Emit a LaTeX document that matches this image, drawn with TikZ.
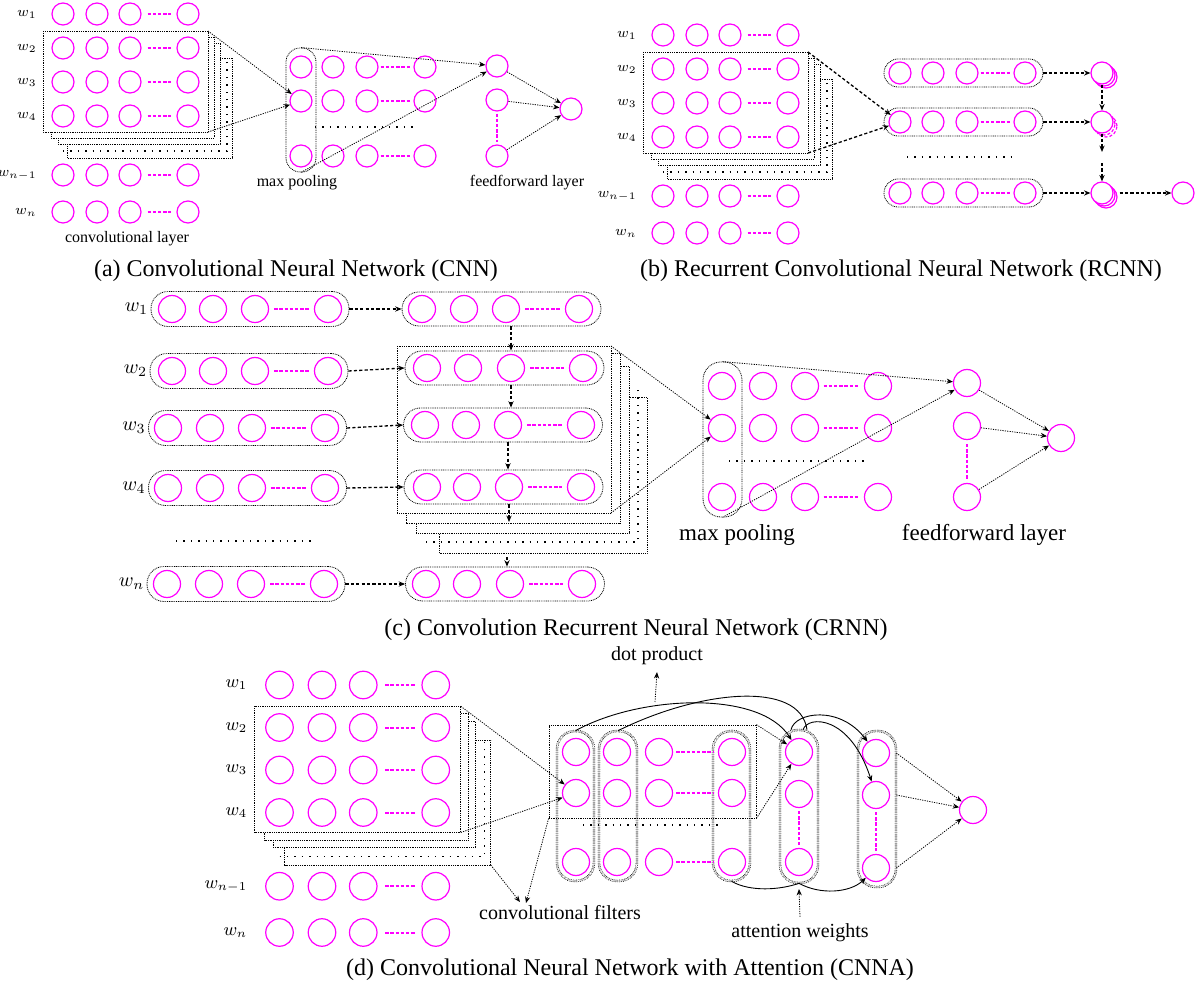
\documentclass[tikz,border=0pt]{standalone}
\usepackage{fontspec}
\setmainfont{Liberation Serif}
\usetikzlibrary{arrows.meta,calc}
\definecolor{mag}{RGB}{255,0,255}
\newcommand\labfa{\fontsize{6.8}{8}\selectfont}
\newcommand\labfc{\fontsize{10}{12}\selectfont}
\newcommand\labfd{\fontsize{8.8}{10}\selectfont}
\newcommand\smallf{\fontsize{8}{9.6}\selectfont}
\newcommand\midf{\fontsize{10}{12}\selectfont}
\newcommand\bigf{\fontsize{11.5}{13.8}\selectfont}
\newcommand\capf{\fontsize{12}{14.4}\selectfont}
% conv block: #1 prefix, #2 scope options, #3 circle size, #4 label font
\newcommand{\convblock}[4]{%
\begin{scope}[#2]
 \draw[rectln, fill=white] (67,58) rectangle (232,158);
 \draw[ellip] (63,151) -- (227,151) -- (227,58);
 \draw[rectln, fill=white] (58,43) rectangle (220,144);
 \draw[rectln, fill=white] (51,37) rectangle (214,138);
 \draw[rectln, fill=white] (43,31) rectangle (208,132);
 \coordinate (#1ne) at (208,31);
 \coordinate (#1se) at (208,132);
 \coordinate (#1bse) at (232,158);
 \foreach \yy/\ll/\rr in {14/{w_1}/1, 48/{w_2}/2, 82/{w_3}/3, 116/{w_4}/4, 175/{w_{n-1}}/5, 212/{w_n}/6}{
   \node[anchor=east, font=#4, inner sep=1pt] (#1l\rr) at (39,\yy) {$\ll$};
   \foreach \xx [count=\cc] in {63,97,130,188} {\node[neur=#3] (#1-\rr-\cc) at (\xx,\yy) {};}
   \draw[mdash] ([xshift=3pt]#1-\rr-3.east) -- ([xshift=-2.5pt]#1-\rr-4.west);
 }
\end{scope}}
\begin{document}
\begin{tikzpicture}[x=0.5pt,y=-0.5pt,
  neur/.style={circle, draw=mag, line width=0.6pt, inner sep=0pt, minimum size=#1},
  neur/.default=11pt,
  mdash/.style={draw=mag, line width=1pt, dash pattern=on 1.7pt off 0.9pt},
  rectln/.style={draw=black, line width=0.4pt, dash pattern=on 0.45pt off 0.45pt},
  rowbox/.style={draw=black, line width=0.4pt, dash pattern=on 0.45pt off 0.45pt, inner sep=0pt, rounded corners=#1},
  rowbox/.default=7pt,
  dblbox/.style={draw=black, line width=0.3pt, dash pattern=on 0.4pt off 0.5pt, double, double distance=0.6pt, inner sep=0pt, rounded corners=9pt},
  ellip/.style={draw=black, line width=0.7pt, dash pattern=on 0.7pt off 3pt},
  dotarrow/.style={draw=black, line width=0.4pt, dash pattern=on 0.6pt off 0.6pt, -{Stealth[length=3.2pt,width=2.6pt]}},
  dasharrow/.style={draw=black, line width=0.65pt, dash pattern=on 1.6pt off 1.1pt, -{Stealth[length=3.2pt,width=2.6pt]}},
  curvarrow/.style={draw=black, line width=0.45pt, -{Stealth[length=3.2pt,width=2.6pt]}},
  curvline/.style={draw=black, line width=0.45pt}
]
\useasboundingbox (0,0) rectangle (1201,994);

%%%%%%%%%%%%%%%% (a)
\convblock{a}{}{11pt}{\labfa}
\foreach \yy [count=\rr] in {67,101,156}{
  \foreach \xx [count=\cc] in {301,333,367,425}{\node[neur] (pa-\rr-\cc) at (\xx,\yy) {};}
  \draw[mdash] ([xshift=1pt]pa-\rr-3.east) -- ([xshift=-1.5pt]pa-\rr-4.west);
}
\node[rowbox, minimum width=15pt, minimum height=62pt] (pboxa) at (301,110) {};
\draw[ellip] (315,127) -- (417,127);
\node[neur] (fa1) at (497,66) {};
\node[neur] (fa2) at (497,100) {};
\node[neur] (fa3) at (497,156) {};
\node[neur] (outa) at (571,109) {};
\draw[mdash] ([yshift=-1pt]fa2.south) -- ([yshift=1pt]fa3.north);
\node[font=\smallf] (lmpa) at (297,183) {max pooling};
\node[font=\smallf] (lffa) at (527,183) {feedforward layer};
\node[font=\smallf] (lcla) at (127,239) {convolutional layer};
\draw[dotarrow] (ane) -- (pa-2-1);
\draw[dotarrow] (ase) -- (pa-2-1);
\draw[dotarrow] (pboxa.north) -- (fa1);
\draw[dotarrow] (pboxa.south) -- (fa1);
\draw[dotarrow] (fa1) -- (outa);
\draw[dotarrow] (fa2) -- (outa);
\draw[dotarrow] (fa3) -- (outa);
\node[font=\capf] (capa) at (296,271) {(a) Convolutional Neural Network (CNN)};

%%%%%%%%%%%%%%%% (b)
\convblock{b}{shift={(600,21)}}{11pt}{\labfa}
\foreach \yy [count=\rr] in {73,122,193}{
  \node[rowbox, minimum width=79.5pt, minimum height=14pt] (bbox\rr) at (963.5,\yy) {};
  \foreach \xx [count=\cc] in {900,933,967,1025}{\node[neur] (pb-\rr-\cc) at (\xx,\yy) {};}
  \draw[mdash] ([xshift=1pt]pb-\rr-3.east) -- ([xshift=-1.5pt]pb-\rr-4.west);
}
\draw[ellip] (907,157) -- (1017,157);
\node[neur] (sb1c) at (1106,77) {};
\node[neur] (sb1b) at (1104,75) {};
\node[neur, fill=white] (sb1) at (1102,73) {};
\node[neur, dash pattern=on 1.5pt off 1pt] (sb2c) at (1106,126) {};
\node[neur, dash pattern=on 1.5pt off 1pt] (sb2b) at (1104,124) {};
\node[neur, fill=white] (sb2) at (1102,122) {};
\node[neur] (sb3c) at (1106,197) {};
\node[neur] (sb3b) at (1104,195) {};
\node[neur, fill=white] (sb3) at (1102,193) {};
\node[neur] (outb) at (1183,193) {};
\coordinate (bv1) at (1102,152);
\coordinate (bv2) at (1102,163);
\foreach \rr in {1,2,3}{\draw[dasharrow] (bbox\rr.east) -- (sb\rr.west);}
\draw[dasharrow] (sb1.south) -- (sb2.north);
\draw[dasharrow] (sb2.south) -- (bv1);
\draw[dasharrow] (bv2) -- (sb3.north);
\draw[dasharrow] ([xshift=3pt]sb3.east) -- (outb.west);
\draw[dasharrow] (bne) -- (pb-2-1);
\draw[dasharrow] (bse) -- (pb-2-1);
\node[font=\capf] (capb) at (901,271) {(b) Recurrent Convolutional Neural Network (RCNN)};

%%%%%%%%%%%%%%%% (c)
\draw[rectln, fill=white] (439,397) rectangle (647,553);
\draw[ellip] (426,542) -- (638,542) -- (638,385);
\draw[rectln, fill=white] (416,366) rectangle (629,533);
\draw[rectln, fill=white] (406,353) rectangle (620,523);
\draw[rectln, fill=white] (397,346) rectangle (611,513);
\coordinate (cne) at (611,346);
\coordinate (cse) at (611,513);
% right column rows
\foreach \yy/\bx/\xa/\xb/\xc/\xd [count=\rr] in {309/501.5/422/464/506/579, 368/504.5/427/468/511/583, 425/503/425/466/508/581, 487/503.5/427/467/509/581, 584/505/426/467/510/582}{
  \node[rowbox=8.5pt, minimum width=99.5pt, minimum height=17pt] (crbox\rr) at (\bx,\yy) {};
  \foreach \xx [count=\cc] in {\xa,\xb,\xc,\xd}{\node[neur=13.5pt] (cr\rr-\cc) at (\xx,\yy) {};}
  \draw[mdash] ([xshift=2.5pt]cr\rr-3.east) -- ([xshift=-2.5pt]cr\rr-4.west);
}
% left column rows
\foreach \yy/\bx/\xa/\xb/\xc/\xd/\ll [count=\rr] in {309/250/172/213/255/328/{w_1}, 371/249/172/213/255/328/{w_2}, 428/247.5/168/210/252/325/{w_3}, 488/247.5/168/210/252/325/{w_4}, 584/246/167/209/251/324/{w_n}}{
  \node[rowbox=8.5pt, minimum width=99pt, minimum height=17.5pt] (clbox\rr) at (\bx,\yy) {};
  \foreach \xx [count=\cc] in {\xa,\xb,\xc,\xd}{\node[neur=13.5pt] (cl\rr-\cc) at (\xx,\yy) {};}
  \draw[mdash] ([xshift=2.5pt]cl\rr-3.east) -- ([xshift=-2.5pt]cl\rr-4.west);
  \node[anchor=east, font=\labfc, inner sep=1pt] (clab\rr) at (clbox\rr.west) {$\ll$};
  \draw[dasharrow] (clbox\rr.east) -- (crbox\rr.west);
}
\draw[ellip] (176,541) -- (313,541);
\coordinate (cgap1) at (509,522);
\coordinate (cgap2) at (507,557);
\draw[dasharrow] (cr2-3 |- crbox1.south) -- (cr2-3 |- crbox2.north);
\draw[dasharrow] (cr2-3 |- crbox2.south) -- (cr2-3 |- crbox3.north);
\draw[dasharrow] (cr3-3 |- crbox3.south) -- (cr3-3 |- crbox4.north);
\draw[dasharrow] (cr4-3 |- crbox4.south) -- (cgap1);
\draw[dasharrow] (cgap2) -- (cgap2 |- crbox5.north);
% max pooling (c)
\foreach \yy [count=\rr] in {386,428,497}{
  \foreach \xx [count=\cc] in {722,763,805,878}{\node[neur=13.5pt] (pc-\rr-\cc) at (\xx,\yy) {};}
  \draw[mdash] ([xshift=2.2pt]pc-\rr-3.east) -- ([xshift=-2.2pt]pc-\rr-4.west);
}
\node[rowbox=9pt, minimum width=19.5pt, minimum height=77.5pt] (pcbox) at (722.5,439.5) {};
\draw[ellip] (729,461) -- (868,461);
\node[neur=13.5pt] (fc1) at (967,383) {};
\node[neur=13.5pt] (fc2) at (967,426) {};
\node[neur=13.5pt] (fc3) at (967,497) {};
\node[neur=13.5pt] (outc) at (1061,438) {};
\draw[mdash] ([yshift=-2pt]fc2.south) -- ([yshift=2pt]fc3.north);
\node[font=\bigf] (lmpc) at (737,535) {max pooling};
\node[font=\bigf] (lffc) at (984,535) {feedforward layer};
\draw[dotarrow] (cne) -- (pc-2-1);
\draw[dotarrow] (cse) -- (pc-2-1);
\draw[dotarrow] (pcbox.north) -- (fc1);
\draw[dotarrow] (pcbox.south) -- (fc1);
\draw[dotarrow] (fc1) -- (outc);
\draw[dotarrow] (fc2) -- (outc);
\draw[dotarrow] (fc3) -- (outc);
\node[font=\capf] (capc) at (636,630) {(c) Convolution Recurrent Neural Network (CRNN)};

%%%%%%%%%%%%%%%% (d)
\convblock{d}{shift={(200.75,667.5)}, scale=1.25}{13.75pt}{\labfd}
\node[dblbox, minimum width=18.5pt, minimum height=75pt] (fbox1) at (575.5,806) {};
\node[dblbox, minimum width=19pt, minimum height=75pt] (fbox2) at (618,806) {};
\node[dblbox, minimum width=18.5pt, minimum height=75pt] (fbox4) at (731.5,806) {};
\foreach \yy [count=\rr] in {752,793,862}{
  \foreach \xx [count=\cc] in {576,617,659,732}{\node[neur=13.5pt] (fd-\rr-\cc) at (\xx,\yy) {};}
  \draw[mdash] ([xshift=1.5pt]fd-\rr-3.east) -- ([xshift=-2.5pt]fd-\rr-4.west);
}
\node[rectln, inner sep=0pt, minimum width=103.5pt, minimum height=46.5pt] (bigr) at (652.5,771.5) {};
\draw[ellip] (583,825) -- (722,825);
\node[dblbox, minimum width=19pt, minimum height=76.5pt] (a1box) at (799,806.5) {};
\node[dblbox, minimum width=19pt, minimum height=78pt] (a2box) at (877,809) {};
\node[neur=13.5pt] (a1-1) at (799,752) {};
\node[neur=13.5pt] (a1-2) at (799,794) {};
\node[neur=13.5pt] (a1-3) at (799,862) {};
\node[neur=13.5pt] (a2-1) at (876,753) {};
\node[neur=13.5pt] (a2-2) at (876,795) {};
\node[neur=13.5pt] (a2-3) at (876,868) {};
\node[neur=13.5pt] (outd) at (973,810) {};
\draw[mdash] ([yshift=-1.5pt]a1-2.south) -- ([yshift=1.5pt]a1-3.north);
\draw[mdash] ([yshift=-1.5pt]a2-2.south) -- ([yshift=1.5pt]a2-3.north);
\node[font=\midf] (dplab) at (657,656) {dot product};
\node[font=\midf] (cflab) at (560,913) {convolutional filters};
\node[font=\midf] (awlab) at (800,933) {attention weights};
\coordinate (dpfoot) at (655,702);
\coordinate (awtip) at (799,889);
\coordinate (cft1) at (520,902);
\coordinate (cft2) at (526,903);
\draw[dotarrow] (dne) -- (fd-2-1);
\draw[dotarrow] (dse) -- (fd-2-1);
\draw[dotarrow] (bigr.north east) -- (a1-1);
\draw[dotarrow] (bigr.south east) -- (a1-1);
\draw[dotarrow] (a2-1 -| a2box.east) -- (outd);
\draw[dotarrow] (a2-2 -| a2box.east) -- (outd);
\draw[dotarrow] (a2-3 -| a2box.east) -- (outd);
\draw[dotarrow] (dpfoot) -- (dplab.south);
\draw[dotarrow] (awlab.north) -- (awtip);
\draw[dotarrow] (dbse) -- (cft1);
\draw[dotarrow] (bigr.south west) -- (cft2);
\draw[curvarrow] (fbox1.north) .. controls (640,695) and (760,690) .. (a1-1);
\draw[curvline] (fbox2.north) .. controls (700,690) and (800,680) .. ([xshift=4pt]a1box.north);
\draw[curvarrow] ([xshift=-4pt]a1box.north) .. controls (795,712) and (840,705) .. (a2-1);
\draw[curvarrow] ([xshift=2pt]a1box.north) .. controls (808,715) and (850,715) .. (a2-2);
\draw[curvline] (fbox4.south) .. controls (750,892) and (780,890) .. (a1box.south);
\draw[curvarrow] (a1box.south) .. controls (820,895) and (850,893) .. (a2-3);
\node[font=\capf] (capd) at (630,970) {(d) Convolutional Neural Network with Attention (CNNA)};
\end{tikzpicture}
\end{document}
